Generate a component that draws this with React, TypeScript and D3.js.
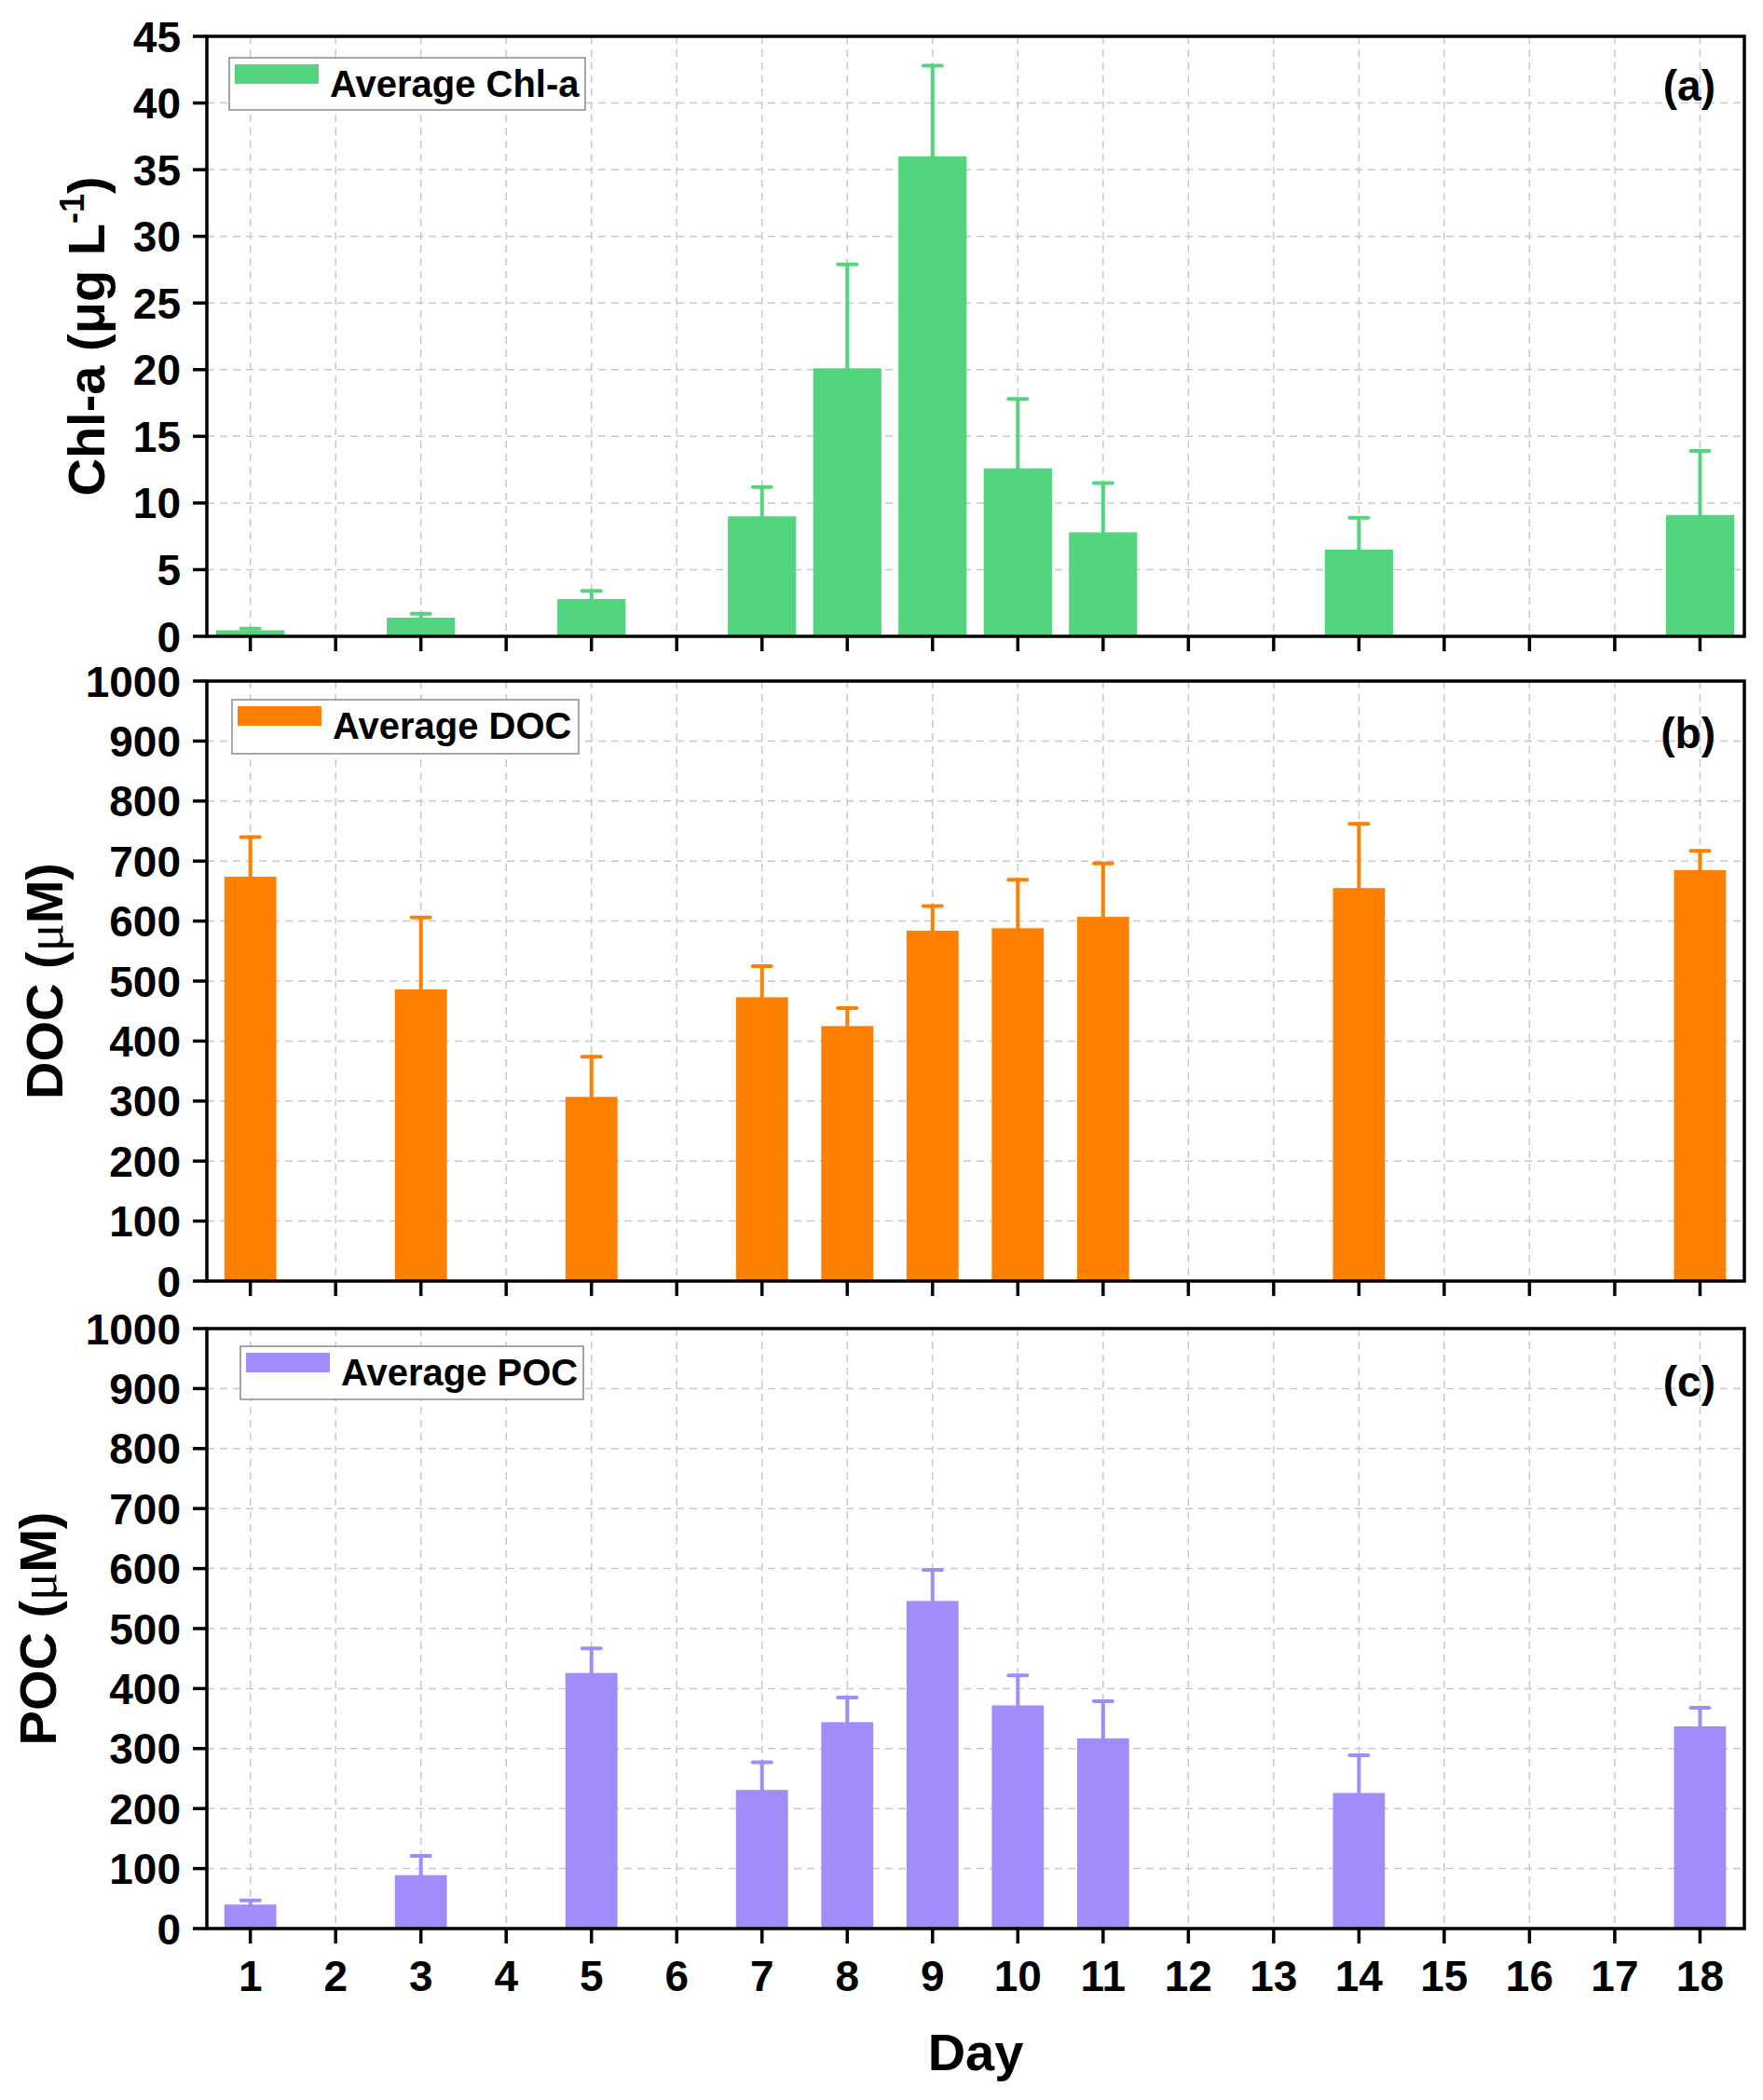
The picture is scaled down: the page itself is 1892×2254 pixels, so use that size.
import React from "react"
import * as d3 from "d3"

// sampling days with measurements
const days = [1, 3, 5, 7, 8, 9, 10, 11, 14, 18]
const dayTicks = d3.range(1, 19)

const chlMean = [0.45, 1.4, 2.8, 9.0, 20.1, 36.0, 12.6, 7.8, 6.5, 9.1]
const chlErr = [0.13, 0.3, 0.6, 2.2, 7.8, 6.8, 5.2, 3.7, 2.4, 4.8]

const docMean = [674, 486, 307, 473, 425, 584, 588, 607, 655, 685]
const docErr = [66, 120, 67, 52, 30, 41, 81, 89, 107, 32]

const pocMean = [40, 89, 426, 231, 344, 546, 372, 317, 226, 337]
const pocErr = [7, 32, 41, 46, 41, 52, 50, 62, 63, 31]

const chlTicks = d3.range(0, 46, 5)
const cTicks = d3.range(0, 1001, 100)

const W = 1892
const H = 2254
const FONT = "'Liberation Sans', Arial, Helvetica, sans-serif"

const x = d3.scaleLinear().domain([0.49, 18.52]).range([222, 1872])

interface PanelProps {
  top: number
  bottom: number
  max: number
  ticks: number[]
  mean: number[]
  err: number[]
  color: string
  barWidth: number
  legend: string
  legendBox: { x: number; y: number; w: number; h: number }
  tag: string
  tagY: number
  title: React.ReactNode
  titleX: number
  showDays?: boolean
}

function Panel({
  top,
  bottom,
  max,
  ticks,
  mean,
  err,
  color,
  barWidth,
  legend,
  legendBox,
  tag,
  tagY,
  title,
  titleX,
  showDays,
}: PanelProps) {
  const y = d3.scaleLinear().domain([0, max]).range([bottom, top])
  const [x0, x1] = x.range()
  const bw = (x(2) - x(1)) * barWidth

  return (
    <g>
      {/* grid */}
      <g stroke="#c9c9c9" strokeWidth={1.5} strokeDasharray="8,6">
        {ticks.slice(1, -1).map((t) => (
          <line key={"gy" + t} x1={x0} x2={x1} y1={y(t)} y2={y(t)} />
        ))}
        {dayTicks.map((d) => (
          <line key={"gx" + d} x1={x(d)} x2={x(d)} y1={top} y2={bottom} />
        ))}
      </g>

      {/* bars */}
      {days.map((d, i) => (
        <rect key={"b" + d} x={x(d) - bw / 2} y={y(mean[i])} width={bw} height={bottom - y(mean[i])} fill={color} />
      ))}

      {/* error bars, upper only */}
      <g stroke={color} strokeLinecap="round">
        {days.map((d, i) => (
          <g key={"e" + d}>
            <line x1={x(d)} x2={x(d)} y1={y(mean[i])} y2={y(mean[i] + err[i])} strokeWidth={4} />
            <line x1={x(d) - 10} x2={x(d) + 10} y1={y(mean[i] + err[i])} y2={y(mean[i] + err[i])} strokeWidth={4} />
          </g>
        ))}
      </g>

      {/* frame */}
      <rect x={x0} y={top} width={x1 - x0} height={bottom - top} fill="none" stroke="#000" strokeWidth={3.5} />

      {/* ticks */}
      <g stroke="#000" strokeWidth={3.5}>
        {ticks.map((t) => (
          <line key={"ty" + t} x1={x0 - 15} x2={x0} y1={y(t)} y2={y(t)} />
        ))}
        {dayTicks.map((d) => (
          <line key={"tx" + d} x1={x(d)} x2={x(d)} y1={bottom} y2={bottom + 16} />
        ))}
      </g>
      <g fontFamily={FONT} fontWeight="bold" fontSize={46} textAnchor="end">
        {ticks.map((t) => (
          <text key={"ly" + t} x={x0 - 28} y={y(t)} dy="0.36em">
            {t}
          </text>
        ))}
      </g>
      {showDays && (
        <g fontFamily={FONT} fontWeight="bold" fontSize={46} textAnchor="middle">
          {dayTicks.map((d) => (
            <text key={"lx" + d} x={x(d)} y={bottom + 67}>
              {d}
            </text>
          ))}
        </g>
      )}

      {/* axis title */}
      <text
        transform={`translate(${titleX},${(top + bottom) / 2}) rotate(-90)`}
        textAnchor="middle"
        fontFamily={FONT}
        fontWeight="bold"
        fontSize={56}
      >
        {title}
      </text>

      {/* legend */}
      <rect
        x={legendBox.x}
        y={legendBox.y}
        width={legendBox.w}
        height={legendBox.h}
        fill="#fff"
        stroke="#8a8a8a"
        strokeWidth={1.5}
      />
      <rect x={legendBox.x + 6} y={legendBox.y + 7} width={90} height={21} fill={color} />
      <text x={legendBox.x + 108} y={legendBox.y + 42} fontFamily={FONT} fontWeight="bold" fontSize={40}>
        {legend}
      </text>

      {/* panel tag */}
      <text x={1841} y={tagY} textAnchor="end" fontFamily={FONT} fontWeight="bold" fontSize={46}>
        {tag}
      </text>
    </g>
  )
}

export default function App() {
  return (
    <svg
      width={W}
      height={H}
      viewBox={`0 0 ${W} ${H}`}
      style={{ position: "absolute", left: 0, top: 0, background: "#fff" }}
    >
      <rect width={W} height={H} fill="#fff" />
      <Panel
        top={39}
        bottom={683}
        max={45}
        ticks={chlTicks}
        mean={chlMean}
        err={chlErr}
        color="#53d57f"
        barWidth={0.8}
        legend="Average Chl-a"
        legendBox={{ x: 246, y: 62, w: 382, h: 56 }}
        tag="(a)"
        tagY={108}
        titleX={112}
        title={
          <>
            Chl-a (μg L
            <tspan fontSize={36} dy={-22}>
              -1
            </tspan>
            <tspan dy={22}>)</tspan>
          </>
        }
      />
      <Panel
        top={731}
        bottom={1375}
        max={1000}
        ticks={cTicks}
        mean={docMean}
        err={docErr}
        color="#ff8000"
        barWidth={0.61}
        legend="Average DOC"
        legendBox={{ x: 249, y: 751, w: 372, h: 58 }}
        tag="(b)"
        tagY={803}
        titleX={67}
        title={
          <>
            DOC (
            <tspan fontWeight="normal" fontFamily="'Liberation Serif', serif">
              μ
            </tspan>
            M)
          </>
        }
      />
      <Panel
        top={1426}
        bottom={2070}
        max={1000}
        ticks={cTicks}
        mean={pocMean}
        err={pocErr}
        color="#a18cf9"
        barWidth={0.61}
        legend="Average POC"
        legendBox={{ x: 258, y: 1445, w: 368, h: 57 }}
        tag="(c)"
        tagY={1499}
        titleX={60}
        showDays
        title={
          <>
            POC (
            <tspan fontWeight="normal" fontFamily="'Liberation Serif', serif">
              μ
            </tspan>
            M)
          </>
        }
      />
      <text x={1047} y={2222} textAnchor="middle" fontFamily={FONT} fontWeight="bold" fontSize={56}>
        Day
      </text>
    </svg>
  )
}
